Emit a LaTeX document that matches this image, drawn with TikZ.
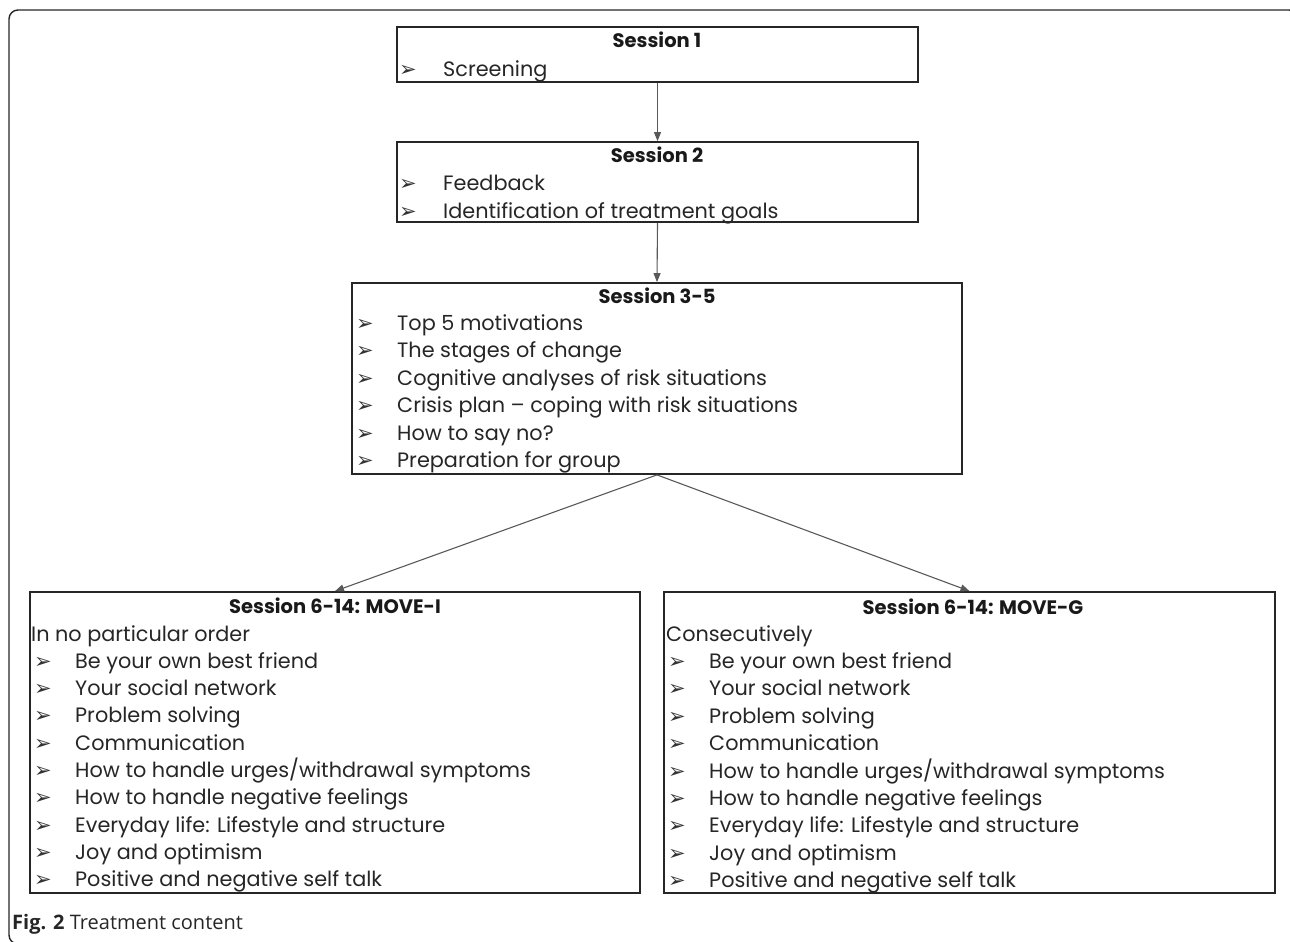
\documentclass[tikz,border=0pt]{standalone}
\usepackage{fontspec}
\setmainfont{Poppins}
\newfontfamily\bulletfont{DejaVu Sans}
\newfontfamily\capfont{Open Sans}
\usetikzlibrary{arrows.meta}
\begin{document}
\begin{tikzpicture}[x=1pt,y=-1pt,
  box/.style={draw=black!85,line width=1.8pt,inner sep=0pt},
  conn/.style={draw=black!65,line width=1.1pt,-{Triangle[length=9pt,width=7pt]}},
  txt/.style={anchor=base west,inner sep=0pt,font=\fontsize{20.8}{24}\selectfont,text=black!85},
  ttl/.style={anchor=base,inner sep=0pt,font=\fontsize{19.5}{23}\selectfont\bfseries,text=black!90},
  bul/.style={anchor=base west,inner sep=0pt,font=\bulletfont\fontsize{21}{24}\selectfont,text=black!80}]
\useasboundingbox (0,0) rectangle (1290,942);
\begin{scope}
\clip (0,0) rectangle (1290,942);
\draw[line width=1.4pt,black!85,rounded corners=9pt] (9,10) rectangle (1298,944);
\end{scope}
% boxes
\node[box,minimum width=521,minimum height=55] (s1) at (657.5,54.5) {};
\node[box,minimum width=521,minimum height=80] (s2) at (657.5,182) {};
\node[box,minimum width=610,minimum height=191] (s3) at (657,378.5) {};
\node[box,minimum width=610,minimum height=301] (m1) at (335,742.5) {};
\node[box,minimum width=611,minimum height=301] (m2) at (969.5,742.5) {};
% arrows
\draw[conn] (s1.south) -- (s2.north);
\draw[conn] (s2.south) -- (s3.north);
\draw[conn] (s3.south) -- (m1.north);
\draw[conn] (s3.south) -- (m2.north);
% session 1
\node[ttl] (t1) at (657,48) {Session 1};
\node[bul] (b11) at (399,77) {➢};
\node[txt] (l11) at (443,77) {Screening};
% session 2
\node[ttl] (t2) at (657,162) {Session 2};
\node[bul] (b21) at (399,190) {➢};
\node[txt] (l21) at (443,190) {Feedback};
\node[bul] (b22) at (399,218) {➢};
\node[txt] (l22) at (443,218) {Identification of treatment goals};
% session 3-5
\node[ttl] (t3) at (657,303) {Session 3-5};
\foreach \s [count=\k] in {Top 5 motivations,The stages of change,Cognitive analyses of risk situations,Crisis plan – coping with risk situations,How to say no?,Preparation for group}{
  \node[bul] (b3\k) at (356,{303+27.4*\k}) {➢};
  \node[txt] (l3\k) at (397,{303+27.4*\k}) {\s};
}
% MOVE-I
\node[ttl] (t4) at (335,613) {Session 6-14: MOVE-I};
\node[txt] (h4) at (31,641) {In no particular order};
\foreach \s [count=\k] in {Be your own best friend,Your social network,Problem solving,Communication,How to handle urges/withdrawal symptoms,How to handle negative feelings,Everyday life: Lifestyle and structure,Joy and optimism,Positive and negative self talk}{
  \node[bul] (b4\k) at (34,{641+27.3*\k}) {➢};
  \node[txt] (l4\k) at (75,{641+27.3*\k}) {\s};
}
% MOVE-G
\node[ttl] (t5) at (973,614) {Session 6-14: MOVE-G};
\node[txt] (h5) at (666,641) {Consecutively};
\foreach \s [count=\k] in {Be your own best friend,Your social network,Problem solving,Communication,How to handle urges/withdrawal symptoms,How to handle negative feelings,Everyday life: Lifestyle and structure,Joy and optimism,Positive and negative self talk}{
  \node[bul] (b5\k) at (668,{641+27.4*\k}) {➢};
  \node[txt] (l5\k) at (709,{641+27.4*\k}) {\s};
}
% caption
\node[anchor=base west,inner sep=0pt,font=\capfont\fontsize{20}{24}\selectfont,text=black!85] (cap) at (12,929) {\textbf{Fig. 2} Treatment content};
\end{tikzpicture}
\end{document}
